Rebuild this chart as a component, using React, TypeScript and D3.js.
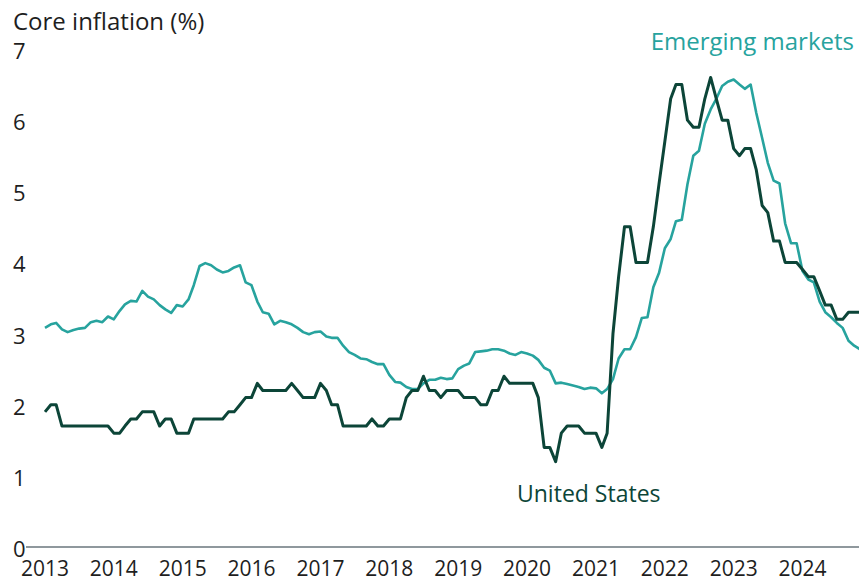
import React, { Component } from 'react';
import * as d3 from 'd3';

const years = [2013, 2014, 2015, 2016, 2017, 2018, 2019, 2020, 2021, 2022, 2023, 2024];
const yTicks = [0, 1, 2, 3, 4, 5, 6, 7];

// monthly, Jan 2013 .. Nov 2024
const usValues = [
  1.9, 2.0, 2.0, 1.7, 1.7, 1.7, 1.7, 1.7, 1.7, 1.7, 1.7, 1.7,
  1.6, 1.6, 1.7, 1.8, 1.8, 1.9, 1.9, 1.9, 1.7, 1.8, 1.8, 1.6,
  1.6, 1.6, 1.8, 1.8, 1.8, 1.8, 1.8, 1.8, 1.9, 1.9, 2.0, 2.1,
  2.1, 2.3, 2.2, 2.2, 2.2, 2.2, 2.2, 2.3, 2.2, 2.1, 2.1, 2.1,
  2.3, 2.2, 2.0, 2.0, 1.7, 1.7, 1.7, 1.7, 1.7, 1.8, 1.7, 1.7,
  1.8, 1.8, 1.8, 2.1, 2.2, 2.2, 2.4, 2.2, 2.2, 2.1, 2.2, 2.2,
  2.2, 2.1, 2.1, 2.1, 2.0, 2.0, 2.2, 2.2, 2.4, 2.3, 2.3, 2.3,
  2.3, 2.3, 2.1, 1.4, 1.4, 1.2, 1.6, 1.7, 1.7, 1.7, 1.6, 1.6,
  1.6, 1.4, 1.6, 3.0, 3.8, 4.5, 4.5, 4.0, 4.0, 4.0, 4.5, 5.1,
  5.7, 6.3, 6.5, 6.5, 6.0, 5.9, 5.9, 6.3, 6.6, 6.3, 6.0, 6.0,
  5.6, 5.5, 5.6, 5.6, 5.3, 4.8, 4.7, 4.3, 4.3, 4.0, 4.0, 4.0,
  3.9, 3.8, 3.8, 3.6, 3.4, 3.4, 3.2, 3.2, 3.3, 3.3, 3.3
];

const emValues = [
  3.08, 3.13, 3.15, 3.06, 3.02, 3.05, 3.07, 3.08, 3.16, 3.18, 3.16, 3.24,
  3.2, 3.32, 3.41, 3.46, 3.45, 3.6, 3.52, 3.48, 3.4, 3.34, 3.29, 3.4,
  3.38, 3.48, 3.68, 3.95, 3.99, 3.96, 3.9, 3.86, 3.88, 3.93, 3.96, 3.72,
  3.68, 3.45, 3.3, 3.28, 3.13, 3.18, 3.16, 3.13, 3.08, 3.02, 2.99, 3.02,
  3.03, 2.96, 2.94, 2.94, 2.83, 2.74, 2.7, 2.65, 2.64, 2.6, 2.57, 2.57,
  2.42, 2.32, 2.31, 2.25, 2.22, 2.22, 2.3, 2.35, 2.35, 2.38, 2.36, 2.37,
  2.5, 2.55, 2.58, 2.74, 2.75, 2.76, 2.78, 2.78, 2.76, 2.72, 2.7, 2.74,
  2.72, 2.69, 2.63, 2.52, 2.48, 2.3, 2.31, 2.29, 2.27, 2.25, 2.22, 2.24,
  2.23, 2.16, 2.22, 2.36, 2.65, 2.78, 2.78, 2.95, 3.22, 3.23, 3.65, 3.85,
  4.2, 4.33, 4.58, 4.6, 5.1, 5.5, 5.57, 5.95, 6.15, 6.3, 6.48, 6.54,
  6.57, 6.5, 6.44, 6.5, 6.1, 5.75, 5.4, 5.15, 5.11, 4.55, 4.27, 4.27,
  3.88, 3.76, 3.72, 3.45, 3.3, 3.23, 3.15, 3.08, 2.9, 2.83, 2.78
];

const startMonth = new Date(2013, 0, 1);

const usColor = '#0c4538';
const emColor = '#27a39e';
const textColor = '#1e1e1e';
const font = '"Open Sans", Lato, sans-serif';

class InflationChart extends Component {
  componentDidMount() {
    this.renderAxis();
  }
  componentDidUpdate() {
    this.renderAxis();
  }
  renderAxis() {
    const { x, y } = this.props;
    d3.select(this.axisEl).selectAll('*').remove();
    let g = d3.select(this.axisEl);

    g.append('line')
      .attr('x1', 26)
      .attr('x2', 859)
      .attr('y1', y(0))
      .attr('y2', y(0))
      .style('stroke', '#8f989d')
      .style('stroke-width', 2);

    g.selectAll('.ytick')
      .data(yTicks)
      .enter()
      .append('text')
      .attr('class', 'ytick')
      .attr('x', 13)
      .attr('y', d => y(d) + 1)
      .attr('dominant-baseline', 'central')
      .style('font-size', 22)
      .style('fill', textColor)
      .text(d => d);

    g.selectAll('.xtick')
      .data(years)
      .enter()
      .append('text')
      .attr('class', 'xtick')
      .attr('x', d => x(new Date(d, 0, 1)))
      .attr('y', 576)
      .attr('text-anchor', 'middle')
      .style('font-size', 21)
      .style('fill', textColor)
      .text(d => d);
  }
  render() {
    const { x, y } = this.props;
    let line = d3
      .line()
      .x((d, i) => x(d3.timeMonth.offset(startMonth, i)))
      .y(d => y(d));
    return (
      <svg
        width={859}
        height={583}
        style={{ position: 'absolute', left: 0, top: 0, fontFamily: font }}
      >
        <rect width={859} height={583} fill="#ffffff" />
        <text x={13} y={30} style={{ fontSize: 24, fill: textColor }}>
          Core inflation (%)
        </text>
        <g ref={el => (this.axisEl = el)} />
        <path d={line(emValues)} fill="none" stroke={emColor} strokeWidth={2.6} strokeLinejoin="round" />
        <path d={line(usValues)} fill="none" stroke={usColor} strokeWidth={3} strokeLinejoin="round" />
        <text x={854} y={50} textAnchor="end" style={{ fontSize: 24, fill: emColor }}>
          Emerging markets
        </text>
        <text x={517} y={502} style={{ fontSize: 23, fill: usColor }}>
          United States
        </text>
      </svg>
    );
  }
}

export default function App() {
  let x = d3
    .scaleTime()
    .domain([startMonth, new Date(2024, 10, 1)])
    .range([45, 860]);
  let y = d3
    .scaleLinear()
    .domain([0, 7])
    .range([547, 49]);
  return <InflationChart x={x} y={y} />;
}
